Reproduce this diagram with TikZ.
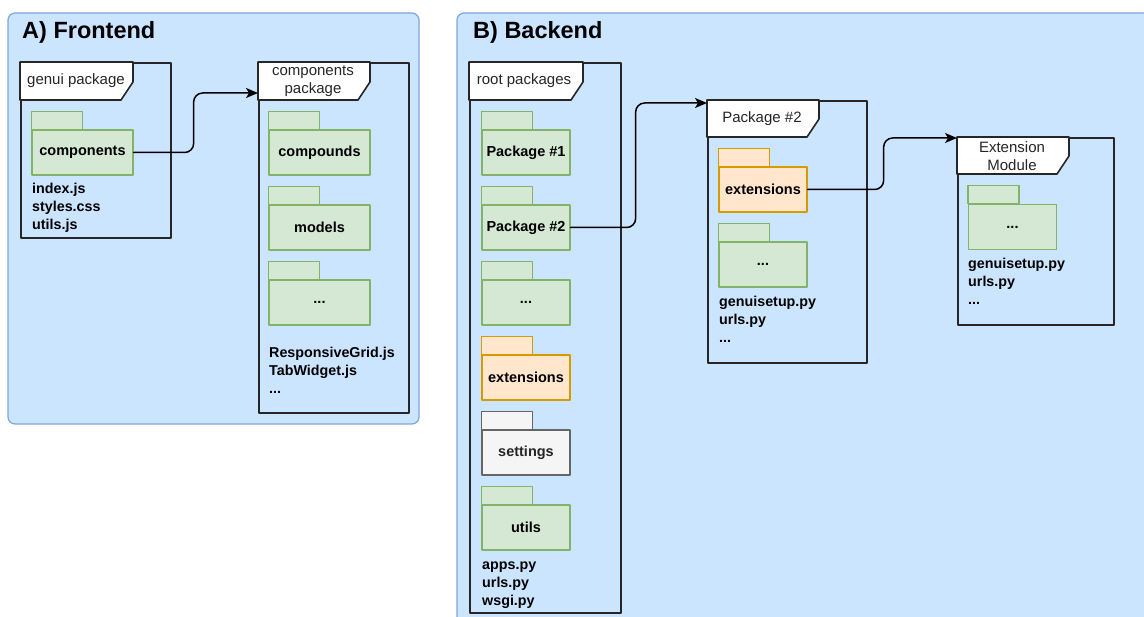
\documentclass[tikz,border=0pt]{standalone}
\usepackage{fontspec}
\setmainfont{Liberation Sans}
\usetikzlibrary{arrows.meta}
\definecolor{bluebg}{HTML}{CCE5FF}
\definecolor{blueedge}{HTML}{7EA6E0}
\definecolor{greenbg}{HTML}{D5E8D4}
\definecolor{greenedge}{HTML}{82B366}
\definecolor{orangebg}{HTML}{FFE6CC}
\definecolor{orangeedge}{HTML}{D79B00}
\definecolor{graybg}{HTML}{F5F5F5}
\definecolor{grayedge}{HTML}{666666}
\definecolor{frameedge}{HTML}{262626}
\definecolor{textgray}{HTML}{262626}
\tikzset{
	container/.style={draw=blueedge,fill=bluebg,line width=1.2pt,rounded corners=7pt},
	title/.style={anchor=base west,inner sep=0pt,font=\bfseries\fontsize{23.5}{28}\selectfont},
	frame/.style={draw=frameedge,line width=1.6pt,anchor=north west,inner sep=0pt},
	tab/.style={draw=frameedge,fill=white,line width=1.6pt},
	tablabel/.style={align=center,inner sep=0pt,text=textgray,font=\fontsize{15}{18}\selectfont},
	greenf/.style={draw=greenedge,fill=greenbg,line width=1.3pt},
	orangef/.style={draw=orangeedge,fill=orangebg,line width=1.3pt},
	grayf/.style={draw=grayedge,fill=graybg,line width=1.3pt},
	folder/.style={minimum width=101pt,minimum height=45pt,inner sep=0pt,font=\bfseries\fontsize{14.5}{17}\selectfont},
	narrow/.style={minimum width=88pt},
	files/.style={anchor=north west,align=left,inner sep=0pt,font=\bfseries\fontsize{14.3}{18}\selectfont},
	conn/.style={draw=black,line width=1.5pt,rounded corners=9pt}
}
\begin{document}
\begin{tikzpicture}[line cap=round,line join=round,>={Stealth[length=12pt,width=10pt,inset=3pt]},x=1pt,y=-1pt]
	\useasboundingbox (0,0) rectangle (1144,617);
	\clip (0,0) rectangle (1144,617);
	\draw [container] (8,13) rectangle (419,424);
	\draw [container] (457,13) rectangle (1170,650);
	\node [title] (ttlA) at (22,39) {A) Frontend};
	\node [title] (ttlB) at (473,39) {B) Backend};
	% package frames
	\node [frame,minimum width=150pt,minimum height=175pt] (genui) at (20,62) {};
	\node [frame,minimum width=150pt,minimum height=350pt] (comppkg) at (258,62) {};
	\node [frame,minimum width=151pt,minimum height=550pt] (rootpkg) at (469,62) {};
	\node [frame,minimum width=159pt,minimum height=262pt] (pkgtwo) at (707,100) {};
	\node [frame,minimum width=156pt,minimum height=187pt] (extmod) at (957,137) {};
	\foreach \fr/\w/\h in {genui/113/38,comppkg/112/38,rootpkg/114/38,pkgtwo/112/37,extmod/112/37}
		\draw [tab] (\fr.north west) -- ++(\w,0) -- ++(0,{\h-18}) -- ++(-12,18) -- ++({12-\w},0) -- cycle;
	\node [tablabel] (genuiL) at (76,81) {genui package};
	\node [tablabel] (comppkgL) at (313,81) {components\\package};
	\node [tablabel] (rootpkgL) at (524,81) {root packages};
	\node [tablabel] (pkgtwoL) at (762,119) {Package \#2};
	\node [tablabel] (extmodL) at (1012,156) {Extension\\Module};
	% folders
	\node [folder,greenf] (comp) at (82.5,152.5) {components};
	\node [folder,greenf] (cpd) at (319.5,152.5) {compounds};
	\node [folder,greenf] (models) at (319.5,227.5) {models};
	\node [folder,greenf] (cdots) at (319.5,302.5) {...};
	\node [folder,narrow,greenf] (pone) at (526,152.5) {Package \#1};
	\node [folder,narrow,greenf] (ptwo) at (526,227.5) {Package \#2};
	\node [folder,narrow,greenf] (rdots) at (526,302.5) {...};
	\node [folder,narrow,orangef] (rext) at (526,377.5) {extensions};
	\node [folder,narrow,grayf,text=textgray] (rset) at (526,452.5) {settings};
	\node [folder,narrow,greenf] (rutils) at (526,527.5) {utils};
	\node [folder,narrow,orangef] (pext) at (763,189.5) {extensions};
	\node [folder,narrow,greenf] (pdots) at (763,264.5) {...};
	\node [folder,narrow,greenf] (edots) at (1012.5,227) {...};
	\foreach \f/\s in {comp/greenf,cpd/greenf,models/greenf,cdots/greenf,pone/greenf,ptwo/greenf,rdots/greenf,rext/orangef,rset/grayf,rutils/greenf,pext/orangef,pdots/greenf,edots/greenf}
		\draw [\s] (\f.north west) rectangle ++(51,-18);
	% file lists
	\node [files] (genuiF) at (32,181) {\strut index.js\\styles.css\\utils.js};
	\node [files] (comppkgF) at (269,344.5) {\strut ResponsiveGrid.js\\TabWidget.js\\...};
	\node [files] (rootpkgF) at (482,557) {\strut apps.py\\urls.py\\wsgi.py};
	\node [files] (pkgtwoF) at (719,294) {\strut genuisetup.py\\urls.py\\...};
	\node [files] (extmodF) at (968,256) {\strut genuisetup.py\\urls.py\\...};
	% connectors
	\coordinate (inA) at ([yshift=-31pt]comppkg.north west);
	\coordinate (inB) at ([yshift=-3pt]pkgtwo.north west);
	\coordinate (inC) at ([yshift=-1pt]extmod.north west);
	\draw [conn,->] (comp.east) -- ++(60,0) |- (inA);
	\draw [conn,->] (ptwo.east) -- ++(65,0) |- (inB);
	\draw [conn,->] (pext.east) -- ++(76,0) |- (inC);
\end{tikzpicture}
\end{document}
